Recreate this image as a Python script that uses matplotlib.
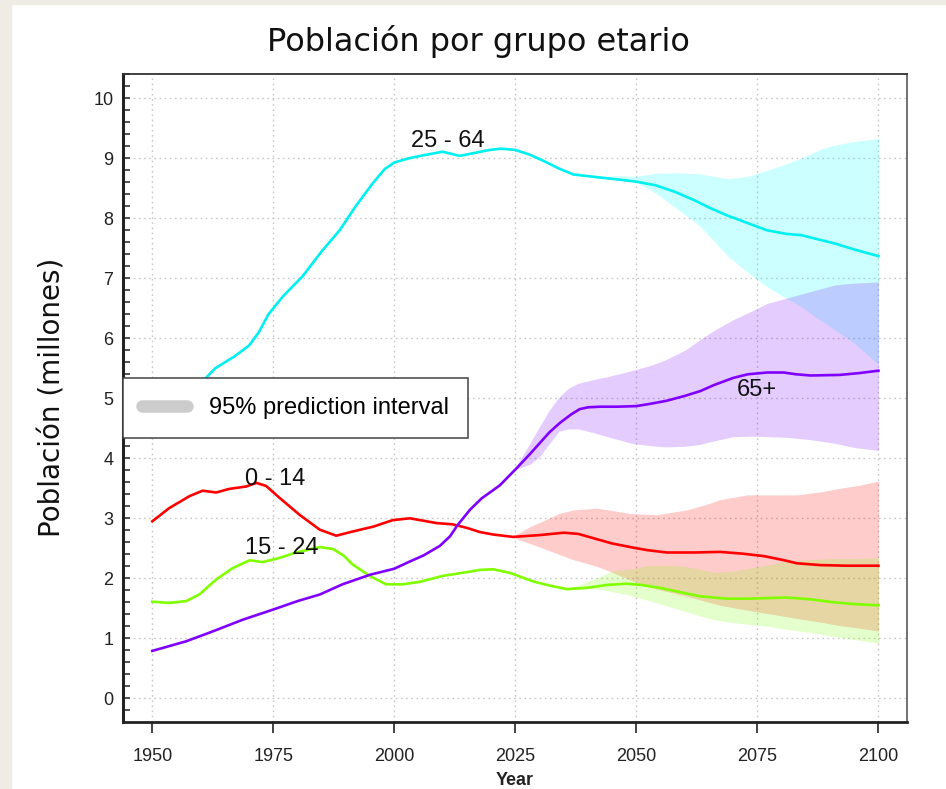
import matplotlib
matplotlib.use("Agg")
import matplotlib.pyplot as plt
from matplotlib.lines import Line2D
from matplotlib.patches import Rectangle
from matplotlib.ticker import MultipleLocator

plt.rcParams['font.family'] = ['Liberation Sans', 'DejaVu Sans']

# ---------------- data ----------------
yr_2564 = [1950, 1955, 1960, 1963, 1967, 1970, 1972, 1974, 1977, 1981, 1985, 1988.7, 1992, 1995.5,
           1998, 2000, 2003, 2006, 2010, 2013.5, 2016, 2019.7, 2022, 2025, 2028, 2031, 2034, 2037,
           2042.5, 2047, 2050, 2054, 2058, 2062, 2065, 2068.7, 2073, 2077, 2081, 2084, 2087, 2091,
           2095, 2100]
val_2564 = [4.70, 4.95, 5.25, 5.50, 5.70, 5.88, 6.10, 6.40, 6.70, 7.03, 7.45, 7.80, 8.20, 8.58,
            8.82, 8.93, 9.00, 9.05, 9.11, 9.04, 9.08, 9.14, 9.16, 9.14, 9.06, 8.95, 8.83, 8.73,
            8.68, 8.64, 8.61, 8.55, 8.44, 8.30, 8.18, 8.05, 7.92, 7.80, 7.74, 7.72, 7.66, 7.58,
            7.48, 7.37]
band_yr_2564 = [2042, 2046, 2050, 2054, 2058, 2063, 2066, 2069, 2073, 2077, 2080, 2084, 2088, 2091, 2095, 2100]
band_hi_2564 = [8.69, 8.71, 8.70, 8.75, 8.76, 8.74, 8.70, 8.66, 8.70, 8.80, 8.88, 9.00, 9.15, 9.22, 9.28, 9.33]
band_lo_2564 = [8.67, 8.67, 8.60, 8.42, 8.18, 7.88, 7.62, 7.36, 7.10, 6.86, 6.71, 6.53, 6.30, 6.14, 5.92, 5.56]

yr_65 = [1950, 1957, 1962, 1968.7, 1975, 1980, 1984.6, 1989.3, 1995, 2000, 2003.2, 2006, 2009.4,
         2011.5, 2013, 2015.6, 2018, 2021.8, 2025.2, 2028, 2030, 2032, 2034.2, 2036.5, 2038.3, 2040,
         2042.5, 2046, 2050, 2053, 2056.3, 2060, 2063.2, 2066, 2070, 2073, 2077, 2080.4, 2083, 2086,
         2092, 2096, 2100]
val_65 = [0.79, 0.95, 1.10, 1.31, 1.48, 1.62, 1.73, 1.90, 2.06, 2.16, 2.28, 2.38, 2.54,
          2.70, 2.88, 3.14, 3.33, 3.55, 3.83, 4.07, 4.25, 4.43, 4.59, 4.73, 4.82, 4.85,
          4.86, 4.86, 4.87, 4.91, 4.96, 5.04, 5.12, 5.22, 5.34, 5.40, 5.43, 5.43, 5.40, 5.38,
          5.39, 5.42, 5.46]
band_yr_65 = [2025, 2028, 2030, 2032, 2034, 2036, 2038, 2041, 2044, 2049, 2053, 2056, 2060, 2063,
              2066, 2070, 2074, 2077, 2081, 2086, 2091, 2095, 2100]
band_hi_65 = [3.85, 4.25, 4.53, 4.80, 5.02, 5.17, 5.25, 5.31, 5.36, 5.46, 5.55, 5.64, 5.80, 5.97,
              6.13, 6.31, 6.46, 6.58, 6.67, 6.78, 6.89, 6.92, 6.94]
band_lo_65 = [3.81, 3.90, 4.03, 4.24, 4.45, 4.49, 4.49, 4.43, 4.36, 4.25, 4.21, 4.19, 4.20, 4.23,
              4.29, 4.36, 4.37, 4.36, 4.35, 4.31, 4.25, 4.18, 4.13]

yr_014 = [1950, 1953.5, 1957.7, 1960.4, 1963.2, 1965.9, 1969.4, 1971.5, 1973.5, 1976.3, 1980.4,
          1984.6, 1988, 1991.4, 1995.6, 1999.7, 2003.2, 2006, 2008.7, 2012, 2015, 2017.7, 2020.4,
          2024.5, 2030, 2035, 2038, 2041.5, 2045, 2049.4, 2052.2, 2056.3, 2062, 2067.3, 2072,
          2076.3, 2080, 2083.2, 2088, 2093.5, 2100]
val_014 = [2.95, 3.17, 3.37, 3.46, 3.43, 3.49, 3.53, 3.59, 3.54, 3.34, 3.06,
           2.81, 2.71, 2.78, 2.86, 2.97, 3.00, 2.96, 2.92, 2.90, 2.84, 2.77, 2.73,
           2.69, 2.72, 2.76, 2.74, 2.66, 2.58, 2.51, 2.47, 2.43, 2.43, 2.44, 2.41,
           2.37, 2.31, 2.25, 2.22, 2.21, 2.21]
band_yr_014 = [2024.5, 2028, 2031.4, 2034, 2037, 2041.8, 2045, 2048.7, 2054.2, 2060.4, 2064, 2067.3,
               2072.8, 2078, 2083.2, 2088, 2092.1, 2096, 2100]
band_hi_014 = [2.70, 2.86, 2.98, 3.08, 3.14, 3.17, 3.13, 3.08, 3.06, 3.14, 3.22, 3.31,
               3.39, 3.39, 3.39, 3.44, 3.50, 3.55, 3.62]
band_lo_014 = [2.68, 2.58, 2.48, 2.40, 2.31, 2.20, 2.10, 1.97, 1.82, 1.70, 1.62, 1.55,
               1.47, 1.40, 1.33, 1.27, 1.21, 1.17, 1.12]

yr_1524 = [1950, 1953.5, 1957, 1959.7, 1963.2, 1966.6, 1970.1, 1972.8, 1976.3, 1979.7, 1984.6,
           1987.3, 1989.5, 1991.4, 1994.9, 1998.3, 2001.8, 2005.2, 2010, 2014, 2017.7, 2020.4,
           2023.9, 2028.6, 2032, 2035.6, 2039.7, 2044, 2048, 2051, 2054.9, 2059, 2063.2, 2068.7,
           2073, 2077, 2081, 2086, 2090.8, 2095, 2100]
val_1524 = [1.61, 1.59, 1.62, 1.73, 1.98, 2.17, 2.30, 2.27, 2.34, 2.43, 2.52,
            2.49, 2.38, 2.23, 2.04, 1.90, 1.90, 1.94, 2.04, 2.09, 2.14, 2.15,
            2.09, 1.95, 1.88, 1.82, 1.84, 1.89, 1.91, 1.89, 1.84, 1.77, 1.70, 1.66,
            1.66, 1.67, 1.68, 1.65, 1.60, 1.57, 1.55]
band_yr_1524 = [2036, 2040, 2042.5, 2045, 2049.4, 2052, 2056.3, 2060, 2063.2, 2066, 2070, 2077,
                2080, 2083.9, 2088, 2090.8, 2095, 2100]
band_hi_1524 = [1.83, 1.95, 2.03, 2.12, 2.16, 2.21, 2.22, 2.20, 2.15, 2.10, 2.12, 2.22,
                2.27, 2.30, 2.32, 2.33, 2.33, 2.34]
band_lo_1524 = [1.81, 1.83, 1.82, 1.78, 1.70, 1.64, 1.54, 1.45, 1.37, 1.31, 1.26, 1.20,
                1.16, 1.12, 1.07, 1.03, 0.98, 0.92]

labels = ["25 - 64", "0 - 14", "15 - 24", "65+"]
label_pos = [(2011.1, 9.29), (1975.3, 3.66), (1976.8, 2.51), (2074.8, 5.14)]
x_ticks = [1950, 1975, 2000, 2025, 2050, 2075, 2100]
y_ticks = list(range(0, 11))

C_CYAN = '#00F0F0'
C_RED = '#FF0000'
C_GREEN = '#80FF00'
C_PURPLE = '#8000FF'

# ---------------- figure ----------------
W, H = 946, 789
fig = plt.figure(figsize=(W / 100, H / 100), dpi=100, facecolor='white')
beige = '#efebe5'
fig.patches.append(Rectangle((0, 0), 11 / W, 1, transform=fig.transFigure, color=beige, zorder=0))
fig.patches.append(Rectangle((0, 1 - 4 / H), 1, 4 / H, transform=fig.transFigure, color=beige, zorder=0))

ax = fig.add_axes([123 / W, 1 - 722 / H, (907 - 123) / W, (722 - 74) / H])
ax.set_xlim(1943.95, 2105.9)
ax.set_ylim(-0.395, 10.405)

# bands
ax.fill_between(band_yr_014, band_lo_014, band_hi_014, color=C_RED, alpha=0.2, lw=0, zorder=1)
ax.fill_between(band_yr_1524, band_lo_1524, band_hi_1524, color=C_GREEN, alpha=0.2, lw=0, zorder=1)
ax.fill_between(band_yr_2564, band_lo_2564, band_hi_2564, color='#00FFFF', alpha=0.2, lw=0, zorder=1)
ax.fill_between(band_yr_65, band_lo_65, band_hi_65, color=C_PURPLE, alpha=0.2, lw=0, zorder=1)

# lines
ax.plot(yr_2564, val_2564, color=C_CYAN, lw=1.9, zorder=3)
ax.plot(yr_014, val_014, color=C_RED, lw=1.9, zorder=3)
ax.plot(yr_1524, val_1524, color=C_GREEN, lw=1.9, zorder=3)
ax.plot(yr_65, val_65, color=C_PURPLE, lw=1.9, zorder=3)

for txt, (x, y) in zip(labels, label_pos):
    ax.text(x, y, txt, fontsize=17, ha='center', va='center', color='#111111', zorder=4)

# ticks & grid
ax.set_xticks(x_ticks)
ax.set_yticks(y_ticks)
ax.yaxis.set_minor_locator(MultipleLocator(0.2))
ax.tick_params(axis='x', direction='out', length=8, width=1.2, colors='#222222',
               labelsize=13, pad=11)
ax.tick_params(axis='y', which='major', direction='in', length=5, width=1.3, colors='#444444',
               labelsize=13, pad=7, labelcolor='#222222')
ax.tick_params(axis='y', which='minor', direction='in', length=5, width=1.3, colors='#444444')
ax.grid(True, which='major', linestyle=(0, (1.2, 2.5)), color='#c8c8c8', lw=1.0, zorder=0)
ax.set_axisbelow(True)

ax.spines['left'].set_linewidth(2.2)
ax.spines['left'].set_color('#222222')
ax.spines['bottom'].set_linewidth(2.0)
ax.spines['bottom'].set_color('#222222')
ax.spines['top'].set_linewidth(1.3)
ax.spines['top'].set_color('#333333')
ax.spines['right'].set_linewidth(1.3)
ax.spines['right'].set_color('#666666')

ax.set_xlabel('Year', fontsize=13, fontweight='bold', labelpad=5, color='#222222')

# legend
handle = Line2D([], [], color='#cccccc', lw=9, solid_capstyle='round')
leg = ax.legend([handle], ['95% prediction interval'], loc='upper left',
                bbox_to_anchor=(0, (722 - 378) / 648), borderaxespad=0, fontsize=17,
                frameon=True, fancybox=False, edgecolor='#444444', framealpha=1,
                handlelength=1.9, handletextpad=0.95, borderpad=0.8)
leg.get_frame().set_linewidth(1.1)
leg.set_zorder(10)

# titles
fig.text(478.5 / W, 1 - 41 / H, 'Población por grupo etario', fontsize=23,
         family=['DejaVu Sans'], ha='center', va='center', color='#111111')
fig.text(52 / W, 1 - 397 / H, 'Población (millones)', fontsize=20, rotation=90,
         family=['DejaVu Sans'], ha='center', va='center', color='#111111')

fig.savefig('out.png', dpi=100, facecolor=fig.get_facecolor())
